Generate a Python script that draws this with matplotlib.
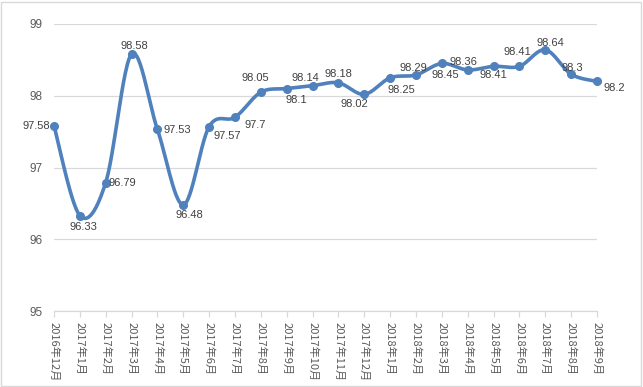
import numpy as np
import matplotlib

matplotlib.use("Agg")

import matplotlib.pyplot as plt
from matplotlib.patches import Rectangle

months = [
    "2016年12月", "2017年1月", "2017年2月", "2017年3月", "2017年4月", "2017年5月",
    "2017年6月", "2017年7月", "2017年8月", "2017年9月", "2017年10月", "2017年11月",
    "2017年12月", "2018年1月", "2018年2月", "2018年3月", "2018年4月", "2018年5月",
    "2018年6月", "2018年7月", "2018年8月", "2018年9月",
]
values = [
    97.58, 96.33, 96.79, 98.58, 97.53, 96.48, 97.57, 97.7, 98.05, 98.1, 98.14,
    98.18, 98.02, 98.25, 98.29, 98.45, 98.36, 98.41, 98.41, 98.64, 98.3, 98.2,
]
y_ticks = [95, 96, 97, 98, 99]

# label offsets in pixels from each point (hand-placed like the original)
label_dx = [-18, 4, 17, 3, 20, 6, 18, 20, -6, 10, -7, 0, -10, 11, -3, 3, -4, 0, -2, 5, 1, 17]
label_dy = [0, -11, 0, 8, -1, -10, -9, -8, 14, -11, 8, 9, -10, -12, 7, -12, 8, -9, 14, 7, 6, -7]

C_LINE = "#4f81bd"
C_TEXT = "#404040"
C_GRID = "#d9d9d9"
FONT = ["Liberation Sans", "Noto Sans CJK SC"]


def smooth(xs, ys, steps=30):
    # Excel-style smoothed line: cubic bezier with catmull-rom control points
    xs = np.asarray(xs, float)
    ys = np.asarray(ys, float)
    px, py = [], []
    n = len(xs)
    for i in range(n - 1):
        x0, y0 = (xs[i - 1], ys[i - 1]) if i > 0 else (xs[i], ys[i])
        x3, y3 = (xs[i + 2], ys[i + 2]) if i + 2 < n else (xs[i + 1], ys[i + 1])
        x1, y1, x2, y2 = xs[i], ys[i], xs[i + 1], ys[i + 1]
        c1 = (x1 + (x2 - x0) / 6, y1 + (y2 - y0) / 6)
        c2 = (x2 - (x3 - x1) / 6, y2 - (y3 - y1) / 6)
        t = np.linspace(0, 1, steps)
        bx = (1 - t) ** 3 * x1 + 3 * (1 - t) ** 2 * t * c1[0] + 3 * (1 - t) * t ** 2 * c2[0] + t ** 3 * x2
        by = (1 - t) ** 3 * y1 + 3 * (1 - t) ** 2 * t * c1[1] + 3 * (1 - t) * t ** 2 * c2[1] + t ** 3 * y2
        px.extend(bx)
        py.extend(by)
    return np.array(px), np.array(py)


fig = plt.figure(figsize=(6.43, 3.87), dpi=100)
ax = fig.add_axes([54 / 643, 1 - 311 / 387, (597 - 54) / 643, (311 - 24) / 387])

x = np.arange(len(values))
sx, sy = smooth(x, values)
ax.plot(sx, sy, color=C_LINE, lw=2.6, solid_capstyle="round", zorder=3, clip_on=False)
ax.plot(x, values, "o", color=C_LINE, ms=5.5, zorder=4, clip_on=False)

for i, v in enumerate(values):
    ax.annotate(f"{v:g}", (x[i], v), xytext=(label_dx[i], label_dy[i]),
                textcoords="offset pixels", ha="center", va="center",
                fontsize=8, color=C_TEXT, family=FONT, zorder=5)

ax.set_xlim(0, len(values) - 1)
ax.set_ylim(95, 99)
ax.set_yticks(y_ticks)
ax.set_yticklabels([str(t) for t in y_ticks], fontsize=8.5, color="#595959", family=FONT)
ax.set_xticks(x)
ax.set_xticklabels(months, rotation=270, fontsize=8, color="#595959",
                   family=["Noto Sans CJK SC", "DejaVu Sans"], va="top", ha="center")
ax.grid(axis="y", color=C_GRID, lw=0.9)
ax.set_axisbelow(True)
for s in ["top", "right", "left"]:
    ax.spines[s].set_visible(False)
ax.spines["bottom"].set_color(C_GRID)
ax.spines["bottom"].set_linewidth(0.9)
ax.tick_params(axis="y", length=0, pad=8)
ax.tick_params(axis="x", length=4, color=C_GRID, width=0.9, pad=4)

fig.patches.append(Rectangle((0.002, 0.003), 0.995, 0.993, transform=fig.transFigure,
                             fill=False, edgecolor=C_GRID, lw=1))

fig.savefig("out.png", dpi=100, facecolor="white")
